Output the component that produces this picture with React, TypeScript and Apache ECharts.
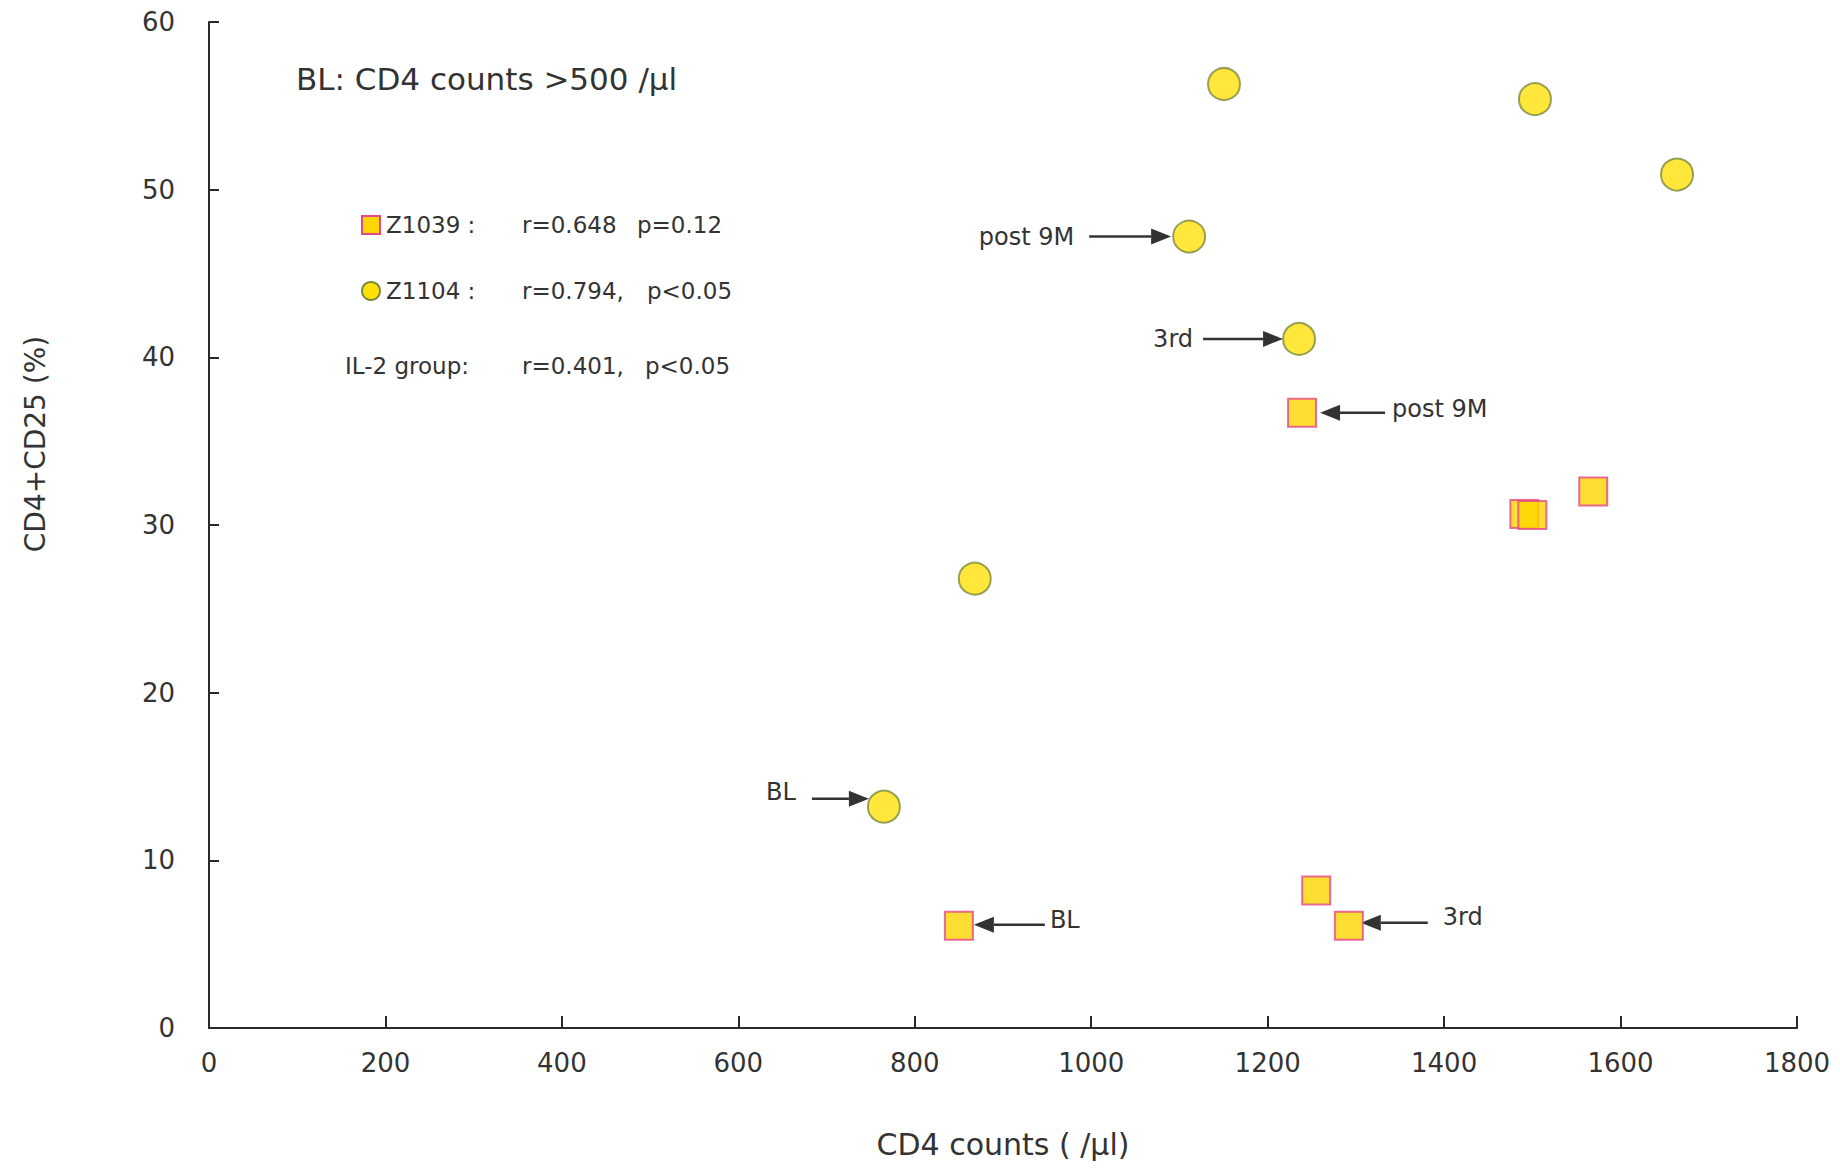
import React, { useEffect, useRef } from "react";
import * as echarts from "echarts";

// ---- data ----
const xTickValues = [0, 200, 400, 600, 800, 1000, 1200, 1400, 1600, 1800];
const yTickValues = [0, 10, 20, 30, 40, 50, 60];

const z1039X = [850, 1255, 1292, 1239, 1491, 1500, 1569];
const z1039Y = [6.1, 8.2, 6.1, 36.7, 30.65, 30.6, 32.0];

const z1104X = [765, 868, 1235.6, 1111, 1150.5, 1503, 1664];
const z1104Y = [13.2, 26.8, 41.1, 47.2, 56.3, 55.4, 50.9];

const legendNames = ["Z1039", "Z1104", "IL-2 group"];
const legendR = ["r=0.648", "r=0.794,", "r=0.401,"];
const legendP = ["p=0.12", "p<0.05", "p<0.05"];

const titleText = "BL: CD4 counts >500 /µl";
const xAxisName = "CD4 counts ( /µl)";
const yAxisName = "CD4+CD25 (%)";

// annotation targets (data coordinates of the marked point) and labels
const annotX = [1111, 1235.6, 1239, 765, 850, 1292];
const annotY = [47.2, 41.1, 36.7, 13.2, 6.1, 6.1];
const annotLabel = ["post 9M", "3rd", "post 9M", "BL", "BL", "3rd"];

// layout of each annotation relative to its point (pixels)
const annotLayout = [
  { tail: -100, tip: -18, ady: 0, text: -115, tdy: 0, side: "left" },
  { tail: -96, tip: -16, ady: 0, text: -106, tdy: 0, side: "left" },
  { tail: 83, tip: 18, ady: 0, text: 90, tdy: -4, side: "right" },
  { tail: -72, tip: -15, ady: -8, text: -88, tdy: -15, side: "left" },
  { tail: 86, tip: 15, ady: -1, text: 91, tdy: -6, side: "right" },
  { tail: 79, tip: 12, ady: -3, text: 94, tdy: -9, side: "right" },
];

const FONT = "'DejaVu Sans', 'Liberation Sans', sans-serif";
const TEXT_COLOR = "#333333";
const AXIS_COLOR = "#2a2a2a";

const CIRCLE_FILL = "#FFE10A";
const CIRCLE_BORDER = "#7E8A3C";
const SQUARE_FILL = "#FFD600";
const SQUARE_BORDER = "#E4478A";

function text(x: number, y: number, t: string, size: number, align: string, extra: any = {}) {
  return {
    type: "text",
    x,
    y,
    silent: true,
    style: {
      text: t,
      x: 0,
      y: 0,
      fill: TEXT_COLOR,
      fontSize: size,
      fontFamily: FONT,
      align,
      textAlign: align,
      verticalAlign: "middle",
      textVerticalAlign: "middle",
    },
    ...extra,
  };
}

function arrow(tailX: number, tipX: number, y: number) {
  const dir = tipX > tailX ? 1 : -1;
  const headLen = 20;
  const headHalf = 8;
  const baseX = tipX - dir * headLen;
  return [
    {
      type: "line",
      silent: true,
      shape: { x1: tailX, y1: y, x2: baseX, y2: y },
      style: { stroke: "#333333", lineWidth: 2.5 },
    },
    {
      type: "polygon",
      silent: true,
      shape: {
        points: [
          [tipX, y],
          [baseX, y - headHalf],
          [baseX, y + headHalf],
        ],
      },
      style: { fill: "#333333" },
    },
  ];
}

export default function App() {
  const ref = useRef<HTMLDivElement>(null);

  useEffect(() => {
    document.body.style.margin = "0";
    const chart = echarts.init(ref.current!, null, { renderer: "svg" });

    const option: any = {
      animation: false,
      backgroundColor: "#ffffff",
      grid: { left: 209, right: 43, top: 22, bottom: 140, containLabel: false },
      xAxis: {
        type: "value",
        min: xTickValues[0],
        max: xTickValues[xTickValues.length - 1],
        interval: 200,
        name: xAxisName,
        nameLocation: "middle",
        nameGap: 101,
        nameTextStyle: { fontSize: 30, fontFamily: FONT, color: TEXT_COLOR },
        axisLine: { show: true, lineStyle: { color: AXIS_COLOR, width: 2 } },
        axisTick: { show: true, inside: true, length: 12, lineStyle: { color: AXIS_COLOR, width: 2 } },
        axisLabel: {
          fontSize: 26,
          fontFamily: FONT,
          color: TEXT_COLOR,
          margin: 22,
          formatter: (v: number) => String(v),
        },
        splitLine: { show: false },
      },
      yAxis: {
        type: "value",
        min: yTickValues[0],
        max: yTickValues[yTickValues.length - 1],
        interval: 10,
        axisLine: { show: true, lineStyle: { color: AXIS_COLOR, width: 2 } },
        axisTick: { show: true, inside: true, length: 10, lineStyle: { color: AXIS_COLOR, width: 2 } },
        axisLabel: {
          fontSize: 26,
          fontFamily: FONT,
          color: TEXT_COLOR,
          margin: 34,
          formatter: (v: number) => String(v),
        },
        splitLine: { show: false },
      },
      series: [
        {
          name: "Z1104",
          type: "scatter",
          symbol: "circle",
          symbolSize: 32,
          itemStyle: { color: CIRCLE_FILL, borderColor: CIRCLE_BORDER, borderWidth: 2 },
          data: z1104X.map((x, i) => [x, z1104Y[i]]),
          z: 3,
        },
        {
          name: "Z1039",
          type: "scatter",
          symbol: "rect",
          symbolSize: 28,
          itemStyle: { color: SQUARE_FILL, borderColor: SQUARE_BORDER, borderWidth: 2 },
          data: z1039X.map((x, i) => [x, z1039Y[i]]),
          z: 4,
        },
      ],
    };
    chart.setOption(option);

    const graphics: any[] = [];
    // note at top left
    graphics.push(text(296, 79, titleText, 31, "left"));
    // y axis name
    graphics.push(text(35, 444, yAxisName, 28, "center", { rotation: Math.PI / 2 }));

    // legend block
    const rowY = [225, 291, 366];
    graphics.push({
      type: "rect",
      silent: true,
      shape: { x: 362, y: rowY[0] - 9, width: 18, height: 18 },
      style: { fill: SQUARE_FILL, stroke: SQUARE_BORDER, lineWidth: 2 },
    });
    graphics.push({
      type: "circle",
      silent: true,
      shape: { cx: 371, cy: rowY[1], r: 9 },
      style: { fill: CIRCLE_FILL, stroke: CIRCLE_BORDER, lineWidth: 2 },
    });
    graphics.push(text(386, rowY[0], legendNames[0] + " :", 23, "left"));
    graphics.push(text(386, rowY[1], legendNames[1] + " :", 23, "left"));
    graphics.push(text(345, rowY[2], legendNames[2] + ":", 23, "left"));
    const pLeft = [637, 647, 645];
    for (let i = 0; i < 3; i++) {
      graphics.push(text(522, rowY[i], legendR[i], 23, "left"));
      graphics.push(text(pLeft[i], rowY[i], legendP[i], 23, "left"));
    }

    // annotations with arrows, anchored to data points through the axes
    for (let i = 0; i < annotX.length; i++) {
      const p = chart.convertToPixel({ gridIndex: 0 }, [annotX[i], annotY[i]]) as number[];
      const L = annotLayout[i];
      const ay = p[1] + L.ady;
      graphics.push(...arrow(p[0] + L.tail, p[0] + L.tip, ay));
      graphics.push(
        text(p[0] + L.text, p[1] + L.tdy, annotLabel[i], 24, L.side === "left" ? "right" : "left")
      );
    }

    chart.setOption({ graphic: graphics });

    return () => chart.dispose();
  }, []);

  return <div ref={ref} style={{ width: 1840, height: 1168 }} />;
}
